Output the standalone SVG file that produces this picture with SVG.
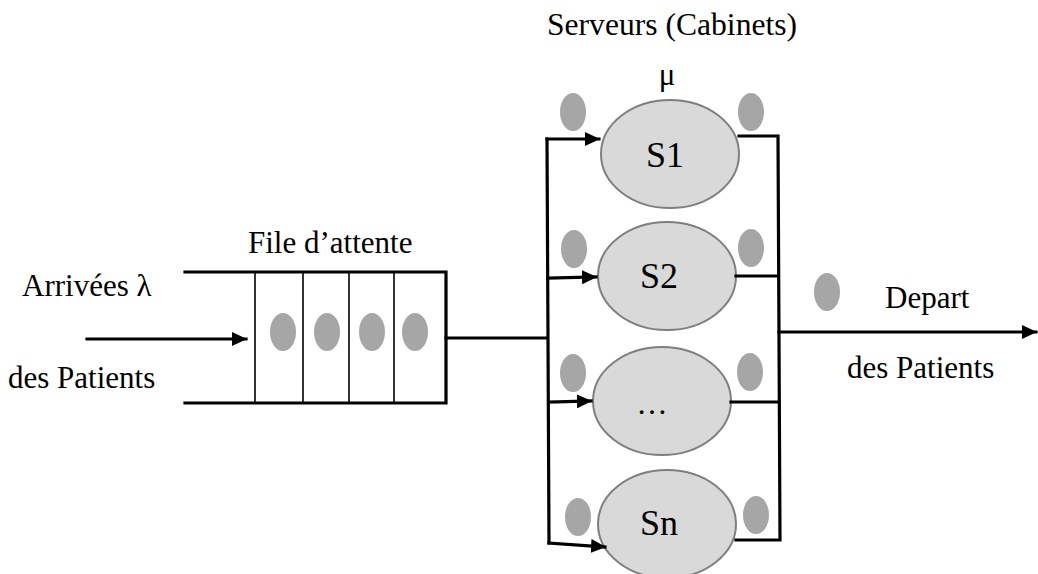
<svg xmlns="http://www.w3.org/2000/svg" width="1038" height="574" viewBox="0 0 1038 574" font-family="'Liberation Serif', 'DejaVu Serif', serif">
  <style>
    text { font-family: 'Liberation Serif', 'DejaVu Serif', serif; font-size: 31px; fill: #000; }
    .name { font-size: 36px; }
    .wire { fill: none; stroke: #000; stroke-width: 3.2; stroke-linecap: square; }
    .thin { fill: none; stroke: #000; stroke-width: 1.6; }
    .srv { fill: #d9d9d9; stroke: #7f7f7f; stroke-width: 2; }
    .pt { fill: #a6a6a6; }
  </style>
  <defs>
    <marker id="arrow" markerUnits="userSpaceOnUse" markerWidth="15" markerHeight="14" refX="14" refY="7" orient="auto">
      <path d="M0,0 L15,7 L0,14 Z" fill="#000"/>
    </marker>
  </defs>
  <rect width="1038" height="574" fill="#fff"/>

  <!-- labels -->
  <text x="547" y="35" style="font-size:31.6px">Serveurs (Cabinets)</text>
  <text x="22" y="296">Arrivées λ</text>
  <text x="8" y="388">des Patients</text>
  <text x="885" y="308">Depart</text>
  <text x="847" y="378">des Patients</text>

  <!-- waiting line -->
  <g id="queue">
    <text x="248" y="253">File d’attente</text>
    <path class="thin" d="M255,272 V403 M303,272 V403 M349,272 V403 M394,272 V403"/>
    <path class="wire" d="M185,272 H446 V403 H185"/>
    <ellipse class="pt" cx="283" cy="332" rx="13" ry="19"/>
    <ellipse class="pt" cx="327" cy="332" rx="13" ry="19"/>
    <ellipse class="pt" cx="372" cy="332" rx="13" ry="19"/>
    <ellipse class="pt" cx="415" cy="332" rx="13" ry="19"/>
  </g>

  <!-- servers -->
  <g id="s1">
    <ellipse class="srv" cx="670" cy="154" rx="69" ry="54"/>
    <text class="name" x="665" y="167" text-anchor="middle">S1</text>
    <text x="667" y="85" text-anchor="middle">μ</text>
  </g>
  <g id="s2">
    <ellipse class="srv" cx="667" cy="276" rx="69" ry="54"/>
    <text class="name" x="659" y="288" text-anchor="middle">S2</text>
  </g>
  <g id="sdots">
    <ellipse class="srv" cx="662" cy="401" rx="69" ry="54"/>
    <text x="652" y="414" text-anchor="middle">…</text>
  </g>
  <g id="sn">
    <ellipse class="srv" cx="667" cy="524" rx="69" ry="54"/>
    <text class="name" x="659" y="535" text-anchor="middle">Sn</text>
  </g>

  <!-- patients around the servers -->
  <g id="patients">
    <ellipse class="pt" cx="573" cy="112" rx="13" ry="19"/>
    <ellipse class="pt" cx="751" cy="112" rx="13" ry="19"/>
    <ellipse class="pt" cx="574" cy="249" rx="13" ry="19"/>
    <ellipse class="pt" cx="751" cy="248" rx="13" ry="19"/>
    <ellipse class="pt" cx="573" cy="373" rx="13" ry="19"/>
    <ellipse class="pt" cx="750" cy="372" rx="13" ry="19"/>
    <ellipse class="pt" cx="578" cy="517" rx="13" ry="19"/>
    <ellipse class="pt" cx="756" cy="515" rx="13" ry="19"/>
    <ellipse class="pt" cx="827" cy="292" rx="13" ry="19"/>
  </g>

  <!-- connectors -->
  <g id="connectors">
    <path class="wire" d="M87,339 H246" marker-end="url(#arrow)"/>
    <path class="wire" d="M446,338 H547"/>
    <path class="wire" d="M547,139 L549,543"/>
    <path class="wire" d="M547,139 H599" marker-end="url(#arrow)"/>
    <path class="wire" d="M548,278 L596,277" marker-end="url(#arrow)"/>
    <path class="wire" d="M549,402 L591,401" marker-end="url(#arrow)"/>
    <path class="wire" d="M549,543 L605,547" marker-end="url(#arrow)"/>
    <path class="wire" d="M739,136 H778 L780,540 H736"/>
    <path class="wire" d="M736,276 H778"/>
    <path class="wire" d="M731,402 H779"/>
    <path class="wire" d="M779,332 H1036" marker-end="url(#arrow)"/>
  </g>
</svg>
